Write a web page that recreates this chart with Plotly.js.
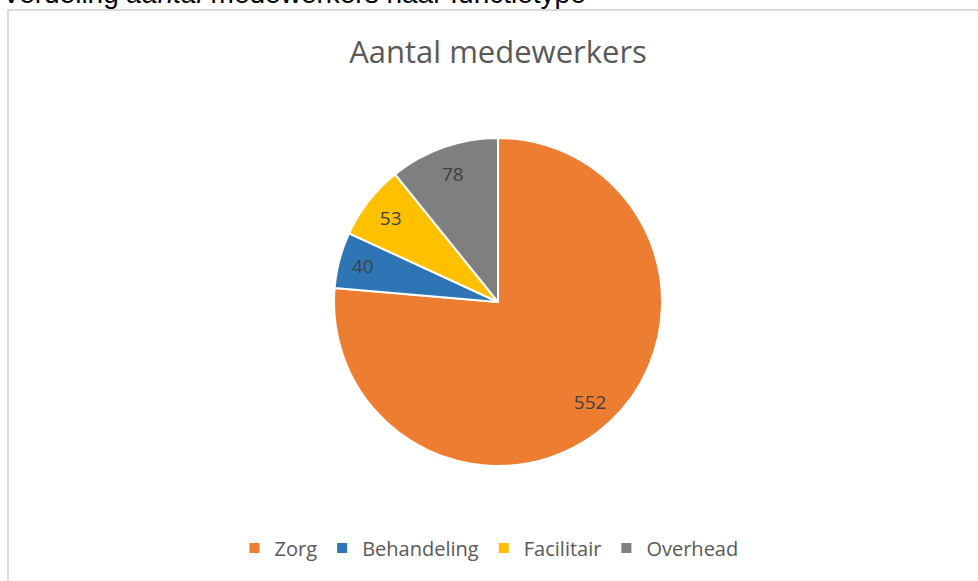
<!DOCTYPE html>
<html>
<head>
<meta charset="utf-8">
<script src="https://cdn.plot.ly/plotly-3.0.1.min.js"></script>
<style>html,body{margin:0;padding:0;background:#fff;}#chart{width:978px;height:581px;}</style>
</head>
<body>
<div id="chart"></div>
<script>
const categories = ["Zorg", "Behandeling", "Facilitair", "Overhead"];
const values = [552, 40, 53, 78];
const sliceColors = ["#ED7D31", "#2E75B6", "#FFC000", "#7F7F7F"];
const chartTitle = "Aantal medewerkers";
const pageHeading = "Verdeling <i>aantal</i> medewerkers naar functietype";

const W = 978, H = 581;
const cx = 498, cy = 302, r = 164;
const pieDomain = { x: [(cx - r) / W, (cx + r) / W], y: [1 - (cy + r) / H, 1 - (cy - r) / H] };

const slices = {
  type: "pie",
  labels: categories,
  values: values,
  sort: false,
  direction: "clockwise",
  rotation: 0,
  marker: { colors: sliceColors, line: { color: "#ffffff", width: 2 } },
  textinfo: "none",
  hoverinfo: "label+value",
  domain: pieDomain
};

// transparent overlay used only to place the value labels further out, like the original
const labelsRing = {
  type: "pie",
  labels: categories,
  values: values,
  sort: false,
  direction: "clockwise",
  rotation: 0,
  hole: 0.66,
  showlegend: false,
  marker: { colors: ["rgba(0,0,0,0)", "rgba(0,0,0,0)", "rgba(0,0,0,0)", "rgba(0,0,0,0)"], line: { width: 0 } },
  textinfo: "value",
  textposition: "inside",
  insidetextorientation: "horizontal",
  textfont: { family: "Open Sans", size: 19, color: "#404040" },
  hoverinfo: "skip",
  domain: pieDomain
};

const layout = {
  width: W, height: H,
  margin: { l: 0, r: 0, t: 0, b: 0 },
  paper_bgcolor: "#ffffff",
  title: {
    text: chartTitle,
    font: { family: "Open Sans", size: 31, color: "#595959" },
    x: cx / W, xanchor: "center", xref: "paper",
    y: 1 - 52 / H, yanchor: "middle", yref: "container"
  },
  showlegend: true,
  legend: {
    orientation: "h",
    x: 0.5, xanchor: "center",
    y: 1 - 548 / H, yanchor: "middle",
    font: { family: "Open Sans", size: 20, color: "#595959" },
    bgcolor: "rgba(0,0,0,0)"
  },
  shapes: [{
    type: "rect", xref: "paper", yref: "paper",
    x0: 8 / W, x1: 1.02, y0: -0.02, y1: 1 - 10 / H,
    line: { color: "#cfcfcf", width: 1.5 }, fillcolor: "rgba(0,0,0,0)", layer: "below"
  }],
  annotations: [{
    text: pageHeading, showarrow: false,
    xref: "paper", yref: "paper",
    x: 0, xanchor: "left", y: 1 - 11 / H, yanchor: "bottom",
    font: { family: "Liberation Sans, Arial", size: 28, color: "#000000" }
  }]
};

Plotly.newPlot("chart", [slices, labelsRing], layout, { displayModeBar: false, staticPlot: true });
</script>
</body>
</html>
